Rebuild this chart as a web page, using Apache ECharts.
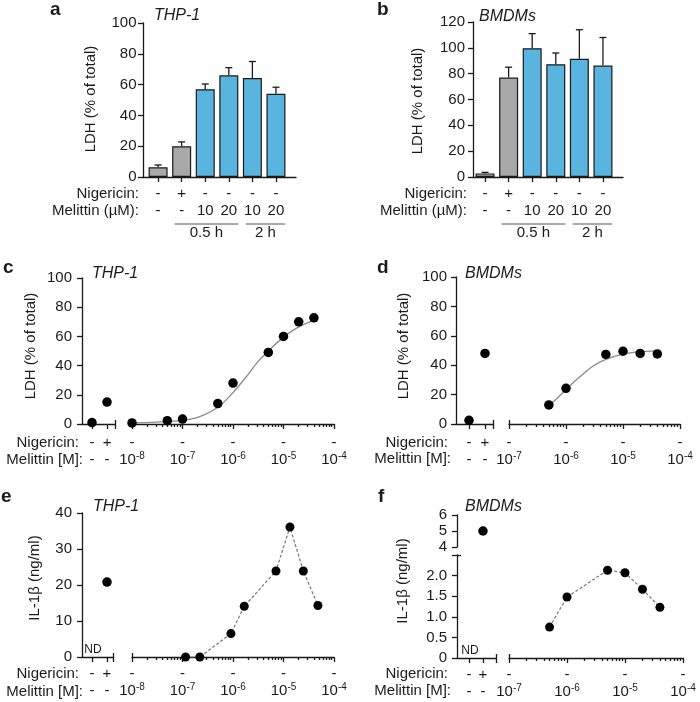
<!DOCTYPE html>
<html><head><meta charset="utf-8">
<script src="https://cdn.jsdelivr.net/npm/echarts@6/dist/echarts.min.js"></script>
<style>html,body{margin:0;padding:0;background:#fff}#c{width:700px;height:702px}</style>
</head><body><div id="c"></div>
<script>
// ================= DATA =================
// Panels a / b (bar charts)
const barPos = [0, 1, 2, 3, 4, 5];
const nigBar = ['-', '+', '-', '-', '-', '-'];
const melBar = ['-', '-', '10', '20', '10', '20'];
const barIsBlue = [false, false, true, true, true, true];
const ldhA = [6.3, 20, 57, 66, 64.3, 54];
const errTopA = [7.8, 22.8, 60.4, 71, 75, 58.3];
const ldhB = [2.8, 77, 99.7, 87.3, 91.5, 86.3];
const errTopB = [3.6, 85, 111, 96, 114, 108];
const brackets = [{from: 0.7, to: 3.4, label: '0.5 h'}, {from: 3.72, to: 5.38, label: '2 h'}];

// Control segment (untreated, nigericin)
const ctrlPos = [0, 1];
const nigCtrl = ['-', '+'];
const melCtrl = ['-', '-'];

// Panel c (THP-1 LDH)
const ctrlLdhC = [1, 15];
const melConcC = [1e-8, 5e-8, 1e-7, 5e-7, 1e-6, 5e-6, 1e-5, 2e-5, 4e-5];
const melLdhC = [0.7, 2.3, 3.4, 14, 28, 49, 60, 70, 72.7];
const fitConcC = [1e-8, 3e-8, 1e-7, 2e-7, 5e-7, 1e-6, 2e-6, 3e-6, 5e-6, 1e-5, 2e-5, 4e-5];
const fitLdhC = [0.8, 1.3, 2.5, 4.5, 11.5, 21.5, 34, 42, 50, 59.5, 66.5, 71];
const decadesC = [1e-8, 1e-7, 1e-6, 1e-5, 1e-4];

// Panel d (BMDM LDH)
const ctrlLdhD = [2.5, 48];
const melConcD = [5e-7, 1e-6, 5e-6, 1e-5, 2e-5, 4e-5];
const melLdhD = [13, 24.3, 47.3, 49.5, 48, 47.7];
const fitConcD = [5e-7, 7e-7, 1e-6, 1.5e-6, 2e-6, 3e-6, 5e-6, 1e-5, 2e-5, 4e-5];
const fitLdhD = [12.5, 17.5, 23.5, 30, 34, 39.5, 44, 47.5, 49.2, 49.8];
const decadesD = [1e-7, 1e-6, 1e-5, 1e-4];

// Panel e (THP-1 IL-1b), control = ND
const nigIlE = [20.8];
const melConcE = [1.15e-7, 2.2e-7, 9.1e-7, 1.67e-6, 7.1e-6, 1.34e-5, 2.47e-5, 4.8e-5];
const melIlE = [0, 0, 6.5, 14.1, 23.9, 36.1, 23.9, 14.3];

// Panel f (BMDM IL-1b), control = ND
const nigIlF = [5];
const melConcF = [5e-7, 1e-6, 5e-6, 1e-5, 2e-5, 4e-5];
const melIlF = [0.75, 1.48, 2.13, 2.07, 1.67, 1.23];
const fLowTicks = [0, 0.5, 1, 1.5, 2];
const fHighTicks = [4, 5, 6];

// ================= STYLE =================
const AX = '#1a1a1a';
const FONT = "'Liberation Sans', Arial, Helvetica, sans-serif";
const LS = {color: AX, width: 1.3};
const GRAY = '#a9a9a9', BLUE = '#5ab4e0';
const RICH = {
  r: {fontSize: 15, lineHeight: 17, color: AX, fontFamily: FONT},
  s: {fontSize: 10, lineHeight: 8, color: AX, fontFamily: FONT, verticalAlign: 'top'}
};

const grids = [], xAxes = [], yAxes = [], series = [];
function addGrid(l, t, w, h) { grids.push({left: l, top: t, width: w, height: h}); return grids.length - 1; }

function yMain(gi, min, max, interval, margin, ticks, fmt) {
  const o = {type: 'value', gridIndex: gi, position: 'left', min, max,
    axisLine: {show: true, onZero: false, lineStyle: LS},
    axisTick: {show: true, length: 5, lineStyle: LS},
    axisLabel: {show: true, fontSize: 15, color: AX, fontFamily: FONT, margin},
    splitLine: {show: false}};
  if (interval) o.interval = interval;
  if (ticks) { o.axisTick.customValues = ticks.concat([]); o.axisLabel.customValues = ticks; }
  if (fmt) o.axisLabel.formatter = fmt;
  yAxes.push(o); return yAxes.length - 1;
}
function yHidden(gi, min, max) { yAxes.push({type: 'value', gridIndex: gi, min, max, show: false, axisLine: {onZero: false}}); return yAxes.length - 1; }
function yCap(gi, min, max, vals) {
  yAxes.push({type: 'value', gridIndex: gi, position: 'left', min, max, axisLine: {show: false, onZero: false},
    axisTick: {show: true, inside: true, length: 4, customValues: vals, lineStyle: LS},
    axisLabel: {show: false}, splitLine: {show: false}});
}
function xCap(gi, type, min, max, vals) {
  xAxes.push({type, gridIndex: gi, position: 'bottom', min, max, axisLine: {show: false, onZero: false},
    axisTick: {show: true, inside: true, length: 4, customValues: vals, lineStyle: LS},
    axisLabel: {show: false}, splitLine: {show: false}});
}
function xCtrl(gi, min, max, margin) {
  xAxes.push({type: 'value', gridIndex: gi, position: 'bottom', min, max,
    axisLine: {show: true, onZero: false, lineStyle: LS},
    axisTick: {show: true, length: 5, customValues: ctrlPos.concat([max]), lineStyle: LS},
    axisLabel: {show: true, customValues: ctrlPos, margin, rich: RICH,
      formatter: v => { const i = Math.round(v); return '{r|' + nigCtrl[i] + '}\n{r|' + melCtrl[i] + '}'; }},
    splitLine: {show: false}});
  const xi = xAxes.length - 1;
  xCap(gi, 'value', min, max, [max]);
  return xi;
}
function xLog(gi, decs, margin) {
  const min = decs[0], max = decs[decs.length - 1];
  xAxes.push({type: 'log', logBase: 10, gridIndex: gi, position: 'bottom', min, max,
    axisLine: {show: true, onZero: false, lineStyle: LS},
    axisTick: {show: true, length: 5, customValues: decs, lineStyle: LS},
    axisLabel: {show: true, customValues: decs, margin, rich: RICH,
      formatter: v => '{r|-}\n{r|10}{s|-' + Math.abs(Math.round(Math.log10(v))) + '}'},
    minorTick: {show: false}, splitLine: {show: false}});
  const xi = xAxes.length - 1;
  const minors = [];
  for (let d = 0; d < decs.length - 1; d++) for (let m = 2; m <= 9; m++) minors.push(decs[d] * m);
  xAxes.push({type: 'log', logBase: 10, gridIndex: gi, position: 'bottom', min, max,
    axisLine: {show: false, onZero: false},
    axisTick: {show: true, length: 3, customValues: minors, lineStyle: LS},
    axisLabel: {show: false}, splitLine: {show: false}});
  xCap(gi, 'log', min, max, [min]);
  return xi;
}
function scatter(xi, yi, data) {
  series.push({type: 'scatter', xAxisIndex: xi, yAxisIndex: yi, data, symbolSize: 9.5,
    itemStyle: {color: '#000', opacity: 1}, clip: false, z: 5});
}
function fitLine(xi, yi, data) {
  series.push({type: 'line', xAxisIndex: xi, yAxisIndex: yi, data, smooth: 0.35, showSymbol: false,
    lineStyle: {color: '#8a8a8a', width: 1.3}, clip: false, z: 3});
}
function dashLine(xi, yi, data) {
  series.push({type: 'line', xAxisIndex: xi, yAxisIndex: yi, data, symbol: 'circle', symbolSize: 9,
    itemStyle: {color: '#000', opacity: 1}, lineStyle: {color: '#777', width: 1.2, type: [3, 2]}, clip: false, z: 4});
}
function barPanel(l, t, w, h, xMin, xMax, yMax, vals, errs, labMargin, yLabMargin) {
  const gi = addGrid(l, t, w, h);
  xAxes.push({type: 'value', gridIndex: gi, position: 'bottom', min: xMin, max: xMax,
    axisLine: {show: true, onZero: false, lineStyle: LS},
    axisTick: {show: true, length: 5, customValues: barPos, lineStyle: LS},
    axisLabel: {show: true, customValues: barPos, margin: labMargin, rich: RICH,
      formatter: v => { const i = Math.round(v); return '{r|' + nigBar[i] + '}\n{r|' + melBar[i] + '}'; }},
    splitLine: {show: false}});
  const xi = xAxes.length - 1;
  const yi = yMain(gi, 0, yMax, 20, yLabMargin);
  series.push({type: 'custom', xAxisIndex: xi, yAxisIndex: yi, z: 1,
    data: barPos.map((p, i) => [p, vals[i], errs[i]]),
    encode: {x: 0, y: [1, 2]},
    renderItem: (params, api) => {
      const x = api.value(0);
      const p1 = api.coord([x, api.value(1)]);
      const p2 = api.coord([x, api.value(2)]);
      return {type: 'group', children: [
        {type: 'line', shape: {x1: p1[0], y1: p1[1], x2: p2[0], y2: p2[1]}, style: {stroke: AX, lineWidth: 1.3}},
        {type: 'line', shape: {x1: p2[0] - 3.5, y1: p2[1], x2: p2[0] + 3.5, y2: p2[1]}, style: {stroke: AX, lineWidth: 1.3}}
      ]};
    }});
  series.push({type: 'bar', xAxisIndex: xi, yAxisIndex: yi, barWidth: 19, z: 2,
    itemStyle: {borderColor: AX, borderWidth: 1.2},
    data: barPos.map((p, i) => ({value: [p, vals[i]], itemStyle: {color: barIsBlue[i] ? BLUE : GRAY}}))});
  return {xi, yi};
}
const zip = (a, b) => a.map((v, i) => [v, b[i]]);

// ---- Panel a ----
const pa = barPanel(143, 23, 153, 154, -0.64, 5.85, 100, ldhA, errTopA, 8, 6.5);
// ---- Panel b ----
const pb = barPanel(473, 22, 150, 155, -0.51, 5.85, 120, ldhB, errTopB, 8, 8);

// ---- Panel c ----
let g = addGrid(82, 278, 33, 146);
const cxL = xCtrl(g, -0.667, 1.533, 10);
const cyL = yMain(g, 0, 100, 20, 10);
scatter(cxL, cyL, zip(ctrlPos, ctrlLdhC));
g = addGrid(132, 278, 202, 146);
const cxR = xLog(g, decadesC, 10);
const cyR = yHidden(g, 0, 100);
fitLine(cxR, cyR, zip(fitConcC, fitLdhC));
scatter(cxR, cyR, zip(melConcC, melLdhC));

// ---- Panel d ----
g = addGrid(456, 277, 37, 147);
const dxL = xCtrl(g, -0.8125, 1.5, 10);
const dyL = yMain(g, 0, 100, 20, 9);
scatter(dxL, dyL, zip(ctrlPos, ctrlLdhD));
g = addGrid(509, 277, 171, 147);
const dxR = xLog(g, decadesD, 10);
const dyR = yHidden(g, 0, 100);
fitLine(dxR, dyR, zip(fitConcD, fitLdhD));
scatter(dxR, dyR, zip(melConcD, melLdhD));

// ---- Panel e ----
g = addGrid(82, 513, 31, 144);
const exL = xCtrl(g, -0.667, 1.4, 8);
const eyL = yMain(g, 0, 40, 10, 10);
scatter(exL, eyL, [[ctrlPos[1], nigIlE[0]]]);
g = addGrid(132, 513, 202, 144);
const exR = xLog(g, decadesC, 8);
const eyR = yHidden(g, 0, 40);
dashLine(exR, eyR, zip(melConcE, melIlE));

// ---- Panel f ----
g = addGrid(457, 515, 39, 32);           // upper (4-6) segment
xAxes.push({type: 'value', gridIndex: g, position: 'bottom', min: -0.857, max: 1.93, show: false, axisLine: {onZero: false}});
const fxT = xAxes.length - 1;
const fyT = yMain(g, 4, 6, 1, 10, fHighTicks, v => String(v));
scatter(fxT, fyT, [[ctrlPos[1], nigIlF[0]]]);
g = addGrid(457, 555, 39, 103);          // lower (0-2.5) segment
const fxL = xCtrl(g, -0.857, 1.93, 8);
const fyL = yMain(g, 0, 2.5, 0.5, 10, fLowTicks, v => (v === 0 ? '0' : v.toFixed(1)));
yAxes[fyL].axisTick.customValues = fLowTicks.concat([2.5]);
yCap(g, 0, 2.5, [2.5]);
g = addGrid(509, 555, 174, 103);
const fxR = xLog(g, decadesD, 8);
const fyR = yHidden(g, 0, 2.5);
dashLine(fxR, fyR, zip(melConcF, melIlF));

const chart = echarts.init(document.getElementById('c'), null, {renderer: 'canvas', width: 700, height: 702});
chart.setOption({
  animation: false, backgroundColor: '#fff',
  grid: grids, xAxis: xAxes, yAxis: yAxes, series
});

// ================= TEXT / ANNOTATIONS =================
const G = [];
function txt(text, x, y, opts) {
  opts = opts || {};
  const font = (opts.style || '') + ' ' + (opts.weight || 'normal') + ' ' + (opts.size || 15) + 'px ' + FONT;
  G.push({type: 'text', x, y, rotation: opts.rot || 0, z: 100,
    style: {text, font, fill: AX, align: opts.align || 'left', verticalAlign: 'middle',
      textAlign: opts.align || 'left', textVerticalAlign: 'middle'}});
}
// panel letters
txt('a', 50, 10, {weight: 'bold', size: 19});
txt('b', 377, 10, {weight: 'bold', size: 19});
txt('c', 3, 268, {weight: 'bold', size: 19});
txt('d', 377, 268, {weight: 'bold', size: 19});
txt('e', 1, 497, {weight: 'bold', size: 19});
txt('f', 378, 497, {weight: 'bold', size: 19});
// titles
txt('THP-1', 154, 16, {style: 'italic', size: 16});
txt('BMDMs', 479, 17, {style: 'italic', size: 16});
txt('THP-1', 92, 274, {style: 'italic', size: 16});
txt('BMDMs', 465, 274, {style: 'italic', size: 16});
txt('THP-1', 93, 507, {style: 'italic', size: 16});
txt('BMDMs', 465, 507, {style: 'italic', size: 16});
// y axis titles
txt('LDH (% of total)', 91, 99, {align: 'center', rot: Math.PI / 2});
txt('LDH (% of total)', 418, 101, {align: 'center', rot: Math.PI / 2});
txt('LDH (% of total)', 31, 346, {align: 'center', rot: Math.PI / 2});
txt('LDH (% of total)', 404, 346, {align: 'center', rot: Math.PI / 2});
txt('IL-1β (ng/ml)', 35, 578, {align: 'center', rot: Math.PI / 2});
txt('IL-1β (ng/ml)', 403, 581, {align: 'center', rot: Math.PI / 2});
// row headers
txt('Nigericin:', 139, 194, {align: 'right'});
txt('Melittin (µM):', 139, 211, {align: 'right'});
txt('Nigericin:', 467, 194, {align: 'right'});
txt('Melittin (µM):', 467, 211, {align: 'right'});
txt('Nigericin:', 79, 443, {align: 'right'});
txt('Melittin [M]:', 83, 460, {align: 'right'});
txt('Nigericin:', 448, 443, {align: 'right'});
txt('Melittin [M]:', 451, 459, {align: 'right'});
txt('Nigericin:', 79, 674, {align: 'right'});
txt('Melittin [M]:', 83, 692, {align: 'right'});
txt('Nigericin:', 448, 674, {align: 'right'});
txt('Melittin [M]:', 451, 691, {align: 'right'});

// brackets under bar panels (positions derived from the axis scale)
[pa, pb].forEach(p => {
  brackets.forEach(b => {
    const s = chart.convertToPixel({xAxisIndex: p.xi, yAxisIndex: p.yi}, [b.from, 0]);
    const e = chart.convertToPixel({xAxisIndex: p.xi, yAxisIndex: p.yi}, [b.to, 0]);
    const y = s[1] + 47;
    G.push({type: 'line', z: 100, shape: {x1: s[0], y1: y, x2: e[0], y2: y}, style: {stroke: '#555', lineWidth: 1}});
    txt(b.label, (s[0] + e[0]) / 2, y + 9, {align: 'center'});
  });
});
// ND labels at the untreated control position
[[exL, eyL], [fxL, fyL]].forEach(([xi, yi]) => {
  const p = chart.convertToPixel({xAxisIndex: xi, yAxisIndex: yi}, [ctrlPos[0], 0]);
  txt('ND', p[0] + 1, p[1] - 7, {align: 'center', size: 12});
});
chart.setOption({graphic: {elements: G}});
</script>
</body></html>
